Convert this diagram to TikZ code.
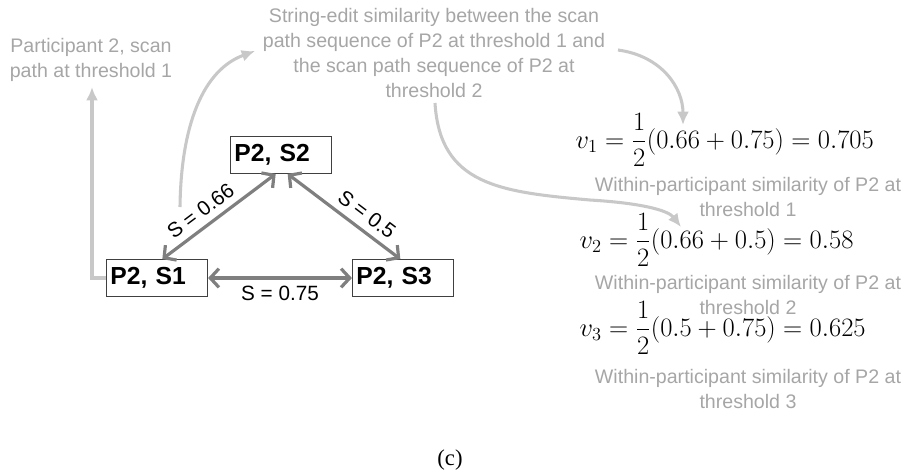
\documentclass[tikz,border=0pt]{standalone}
\usepackage{amsmath}
\usepackage{fontspec}
\usetikzlibrary{arrows.meta}
\newfontfamily\arialfont{Liberation Sans}
\newfontfamily\timesfont{Liberation Serif}
\definecolor{edgegray}{HTML}{7F7F7F}
\definecolor{pointgray}{HTML}{C8C8C8}
\definecolor{notegray}{HTML}{A6A6A6}

\begin{document}
\begin{tikzpicture}[x=0.75pt, y=-0.75pt,
    box/.style={draw=black!75, line width=0.6pt, text width=70pt, align=left, inner xsep=3pt,
        minimum height=27.75pt, font=\arialfont\bfseries\fontsize{18.5}{21}\selectfont},
    simedge/.style={{Straight Barb[length=6.5pt, width=14pt]}-{Straight Barb[length=6.5pt, width=14pt]},
        line width=2.4pt, draw=edgegray},
    simlabel/.style={font=\arialfont\fontsize{15.5}{18}\selectfont, inner sep=2pt},
    note/.style={align=center, text=notegray, font=\arialfont\fontsize{14.7}{18.6}\selectfont},
    pointer/.style={-{Latex[length=10pt, width=9pt]}, line width=2.3pt, draw=pointgray},
    formula/.style={anchor=west, scale=0.96, transform shape, font=\fontsize{20.74}{24}\selectfont}]
    \useasboundingbox (0,0) rectangle (909,472);

    % scan paths of participant 2
    \node[box] (s2) at (281,155) {P2, S2};
    \node[box] (s1) at (157,278) {P2, S1};
    \node[box] (s3) at (403,278) {P2, S3};

    \draw[simedge] ([xshift=4pt]s1.north) -- ([xshift=-4pt]s2.south)
        node[simlabel, sloped, above=3pt, pos=0.42] (l12) {S = 0.66};
    \draw[simedge] ([xshift=5pt]s2.south) -- ([xshift=-2pt]s3.north)
        node[simlabel, sloped, above=3pt, pos=0.62] (l23) {S = 0.5};
    \draw[simedge] (s1) -- (s3)
        node[simlabel, below=3pt, midway] (l13) {S = 0.75};

    % notes
    \node[note] (partnote) at (91,60) {Participant 2, scan\\path at threshold 1};
    \node[note] (editnote) at (434,53) {String-edit similarity between the scan\\path sequence of P2 at threshold 1 and\\the scan path sequence of P2 at\\threshold 2};

    % within-participant similarities
    \node[formula] (v1) at (571,140) {$v_1 = \dfrac{1}{2}(0.66 + 0.75) = 0.705$};
    \node[note] (within1) at (748,197) {Within-participant similarity of P2 at\\threshold 1};
    \node[formula] (v2) at (575,240) {$v_2 = \dfrac{1}{2}(0.66 + 0.5) = 0.58$};
    \node[note] (within2) at (748,295) {Within-participant similarity of P2 at\\threshold 2};
    \node[formula] (v3) at (575,328) {$v_3 = \dfrac{1}{2}(0.5 + 0.75) = 0.625$};
    \node[note] (within3) at (748,389) {Within-participant similarity of P2 at\\threshold 3};

    \node[font=\timesfont\fontsize{17}{19}\selectfont] (caption) at (450,460) {(c)};

    % pointers
    \coordinate (parttip) at (92,87);
    \coordinate (loopstart) at (180,207);
    \coordinate (looptip) at (255,51);
    \coordinate (v1start) at (618,50);
    \coordinate (v1tip) at (683,125);
    \coordinate (v2start) at (435,103);
    \coordinate (v2tip) at (681,227);
    \draw[pointer] (s1.west) -| (parttip);
    \draw[pointer] (loopstart) .. controls (181,125) and (203,70) .. (looptip);
    \draw[pointer] (v1start) .. controls (662,56) and (683,88) .. (v1tip);
    \draw[pointer] (v2start) .. controls (440,185) and (500,192) .. (590,200)
        .. controls (640,203) and (668,210) .. (v2tip);
\end{tikzpicture}
\end{document}
